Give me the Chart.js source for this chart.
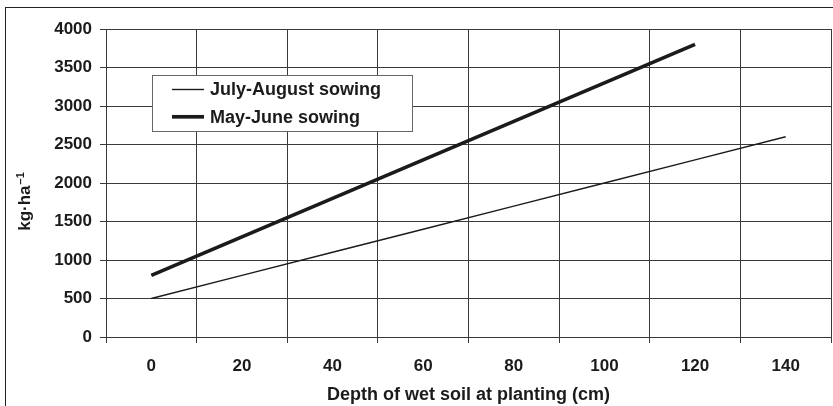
<!DOCTYPE html>
<html>
<head>
<meta charset="utf-8">
<script src="https://cdn.jsdelivr.net/npm/chart.js@4"></script>
<style>
  html, body { margin: 0; padding: 0; background: #fff; overflow: hidden; }
  #wrap { position: relative; width: 833px; height: 406px; }
  #frame { position: absolute; left: 5px; top: 7px; width: 900px; height: 500px;
           border-left: 1px solid #222; border-top: 1px solid #222; }
  canvas { position: absolute; left: 0; top: 0; }
</style>
</head>
<body>
<div id="wrap">
  <div id="frame"></div>
  <canvas id="yieldChart" width="833" height="406"></canvas>
</div>
<script>
// depth of wet soil (cm) and yield (kg/ha) per sowing period
const depths = ['0', '20', '40', '60', '80', '100', '120', '140'];
const julyAugust = [500, 800, 1100, 1400, 1700, 2000, 2300, 2600];
const mayJune = [800, 1300, 1800, 2300, 2800, 3300, 3800, null];
const yTicks = [0, 500, 1000, 1500, 2000, 2500, 3000, 3500, 4000];

const FONT = '"Liberation Sans", Arial, sans-serif';
const INK = '#1b1b1b';
const GRID = '#3a3a3a';

Chart.defaults.font.family = FONT;

// rotated y title with a raised exponent
const yTitle = {
  id: 'yTitle',
  afterDraw(chart) {
    const ctx = chart.ctx;
    ctx.save();
    ctx.translate(30, 202);
    ctx.rotate(-Math.PI / 2);
    ctx.fillStyle = INK;
    ctx.textBaseline = 'alphabetic';
    ctx.font = 'bold 17px ' + FONT;
    const main = 'kg·ha';
    const w1 = ctx.measureText(main).width;
    ctx.font = 'bold 11px ' + FONT;
    const sup = '–1';
    const w2 = ctx.measureText(sup).width;
    const x0 = -(w1 + w2) / 2;
    ctx.font = 'bold 17px ' + FONT;
    ctx.fillText(main, x0, 0);
    ctx.font = 'bold 11px ' + FONT;
    ctx.fillText(sup, x0 + w1 + 1, -6);
    ctx.restore();
  }
};

// boxed legend sitting inside the plot
const legendBox = {
  id: 'legendBox',
  afterDraw(chart) {
    const ctx = chart.ctx;
    const x = 152, y = 75, w = 260, h = 56;
    ctx.save();
    ctx.fillStyle = '#fff';
    ctx.fillRect(x, y, w, h);
    ctx.strokeStyle = '#666';
    ctx.lineWidth = 1;
    ctx.strokeRect(x + 0.5, y + 0.5, w, h);
    ctx.font = 'bold 18px ' + FONT;
    ctx.textBaseline = 'middle';
    chart.data.datasets.forEach((ds, i) => {
      const cy = y + 14.5 + i * 27.3;
      ctx.strokeStyle = ds.borderColor;
      ctx.lineWidth = ds.borderWidth;
      ctx.beginPath();
      ctx.moveTo(x + 20, cy);
      ctx.lineTo(x + 52, cy);
      ctx.stroke();
      ctx.fillStyle = INK;
      ctx.fillText(ds.label, x + 58, cy + 1);
    });
    ctx.restore();
  }
};

const ctx = document.getElementById('yieldChart').getContext('2d');
new Chart(ctx, {
  type: 'line',
  data: {
    labels: depths,
    datasets: [
      {
        label: 'July-August sowing',
        data: julyAugust,
        borderColor: INK,
        borderWidth: 1.4,
        pointRadius: 0,
        tension: 0,
        fill: false
      },
      {
        label: 'May-June sowing',
        data: mayJune,
        borderColor: INK,
        borderWidth: 3.7,
        pointRadius: 0,
        tension: 0,
        fill: false
      }
    ]
  },
  options: {
    responsive: false,
    animation: false,
    layout: { padding: { left: 0, right: 2, top: 29, bottom: 0 } },
    plugins: {
      legend: { display: false },
      tooltip: { enabled: false }
    },
    scales: {
      x: {
        type: 'category',
        offset: true,
        grid: { offset: true, color: GRID, lineWidth: 1, tickLength: 6 },
        border: { color: GRID },
        ticks: {
          color: INK,
          padding: 13,
          maxRotation: 0,
          font: { size: 17, weight: 'bold' }
        },
        title: {
          display: true,
          text: 'Depth of wet soil at planting (cm)',
          color: INK,
          font: { size: 18, weight: 'bold' },
          padding: { top: 0, bottom: 0 }
        },
        afterFit: s => { s.height = 69; }
      },
      y: {
        min: 0,
        max: 4000,
        afterBuildTicks: s => { s.ticks = yTicks.map(v => ({ value: v })); },
        grid: { color: GRID, lineWidth: 1, tickLength: 6 },
        border: { color: GRID },
        ticks: {
          color: INK,
          padding: 8,
          font: { size: 17, weight: 'bold' },
          callback: v => String(v)
        },
        afterFit: s => { s.width = 106; }
      }
    }
  },
  plugins: [yTitle, legendBox]
});
</script>
</body>
</html>
